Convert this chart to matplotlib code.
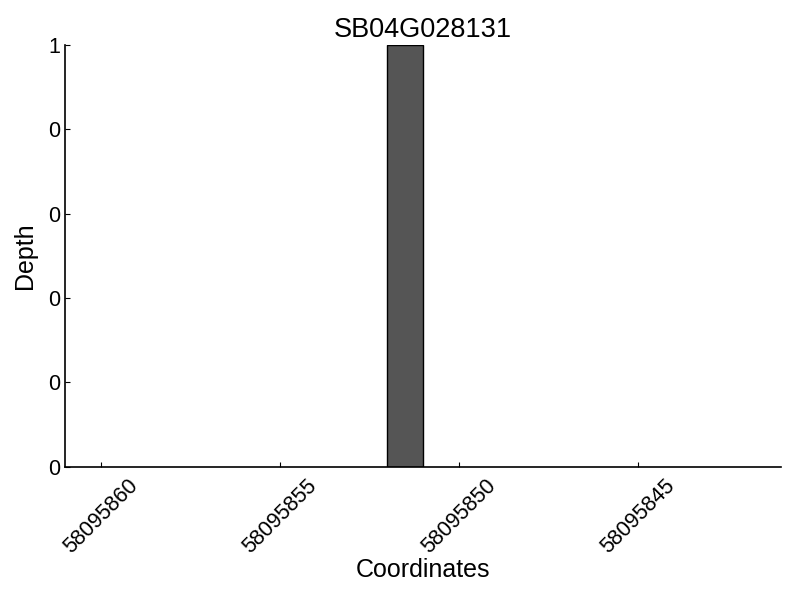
import matplotlib
matplotlib.use('Agg')
import matplotlib.pyplot as plt
from matplotlib.ticker import FormatStrFormatter

plt.rcParams['font.family'] = ['Liberation Sans', 'DejaVu Sans']

gene = 'SB04G028131'
coords = [58095851]
depth = [1]
xticks = [58095860, 58095855, 58095850, 58095845]

fig = plt.figure(figsize=(8, 6), dpi=100)
ax = fig.add_axes([0.081, 0.222, 0.895, 0.703])
ax.bar(coords, depth, width=1, align='edge', color='#555555', edgecolor='black', linewidth=1)

ax.set_xlim(58095861, 58095841)
ax.set_ylim(0, 1)
ax.set_xticks(xticks)
ax.set_xticklabels([str(t) for t in xticks], rotation=45, ha='center', fontsize=15.5)
ax.set_yticks([0, 0.2, 0.4, 0.6, 0.8, 1.0])
ax.yaxis.set_major_formatter(FormatStrFormatter('%d'))
ax.tick_params(axis='y', labelsize=15.5)
ax.tick_params(direction='in', top=False, right=False)
ax.tick_params(axis='x', pad=6)
ax.spines['top'].set_visible(False)
ax.spines['right'].set_visible(False)
for s in ['left', 'bottom']:
    ax.spines[s].set_linewidth(1.2)

ax.set_title(gene, fontsize=19.5)
ax.set_xlabel('Coordinates', fontsize=18, labelpad=0)
ax.set_ylabel('Depth', fontsize=18, labelpad=8)

fig.savefig('out.png', dpi=100)
